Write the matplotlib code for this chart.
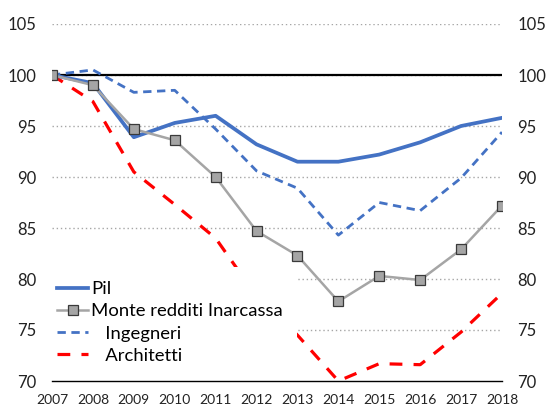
import matplotlib.pyplot as plt
from matplotlib.patches import Rectangle

plt.rcParams['font.family'] = ['Lato', 'DejaVu Sans']

years = [2007, 2008, 2009, 2010, 2011, 2012, 2013, 2014, 2015, 2016, 2017, 2018]
pil = [100.0, 99.2, 93.9, 95.3, 96.0, 93.2, 91.5, 91.5, 92.2, 93.4, 95.0, 95.8]
monte = [100.0, 99.0, 94.7, 93.6, 90.0, 84.7, 82.3, 77.8, 80.3, 79.9, 82.9, 87.2]
ingegneri = [100.0, 100.5, 98.3, 98.5, 94.7, 90.6, 88.9, 84.3, 87.5, 86.7, 89.9, 94.4]
architetti = [100.0, 97.4, 90.5, 87.3, 84.0, 78.3, 74.5, 70.0, 71.7, 71.6, 74.8, 78.6]
yticks = [70, 75, 80, 85, 90, 95, 100, 105]

fig = plt.figure(figsize=(5.46, 4.07), dpi=100)
ax = fig.add_axes([52 / 546, 1 - 381 / 407, 450 / 546, 357 / 407])

for y in yticks[1:]:
    ax.axhline(y, color='#a6a6a6', lw=1, ls=(0, (1, 2)), zorder=1)
ax.axhline(100, color='black', lw=1.6, zorder=2)

ax.plot(years, pil, color='#4472c4', lw=2.7, label='Pil', zorder=4)
ax.plot(years, monte, color='#a5a5a5', lw=1.8, marker='s', markersize=7,
        markerfacecolor='#a5a5a5', markeredgecolor='#3a3a3a', markeredgewidth=0.9,
        label='Monte redditi Inarcassa', zorder=5)
ax.plot(years, ingegneri, color='#4472c4', lw=2.0, ls=(0, (3, 2)),
        label='   Ingegneri', zorder=3)
ax.plot(years, architetti, color='#ff0000', lw=2.3, ls=(0, (4, 3.5)),
        label='   Architetti', zorder=3)

ax.set_xlim(2007, 2018)
ax.set_ylim(70, 105)
ax.set_xticks(years)
ax.set_yticks(yticks)
ax.tick_params(axis='both', length=0, colors='#222222')
ax.tick_params(axis='y', labelsize=12, pad=11, labelright=True)
ax.tick_params(axis='x', labelsize=10, pad=9)
for side in ['left', 'right', 'top']:
    ax.spines[side].set_visible(False)
ax.spines['bottom'].set_color('black')
ax.spines['bottom'].set_linewidth(1)

# white legend area that hides the lines behind it
fig.patches.append(Rectangle((50 / 546, 1 - 370 / 407), 247 / 546, 103 / 407,
                             transform=fig.transFigure, facecolor='white',
                             edgecolor='none', zorder=4))

leg = fig.legend(loc='upper left', bbox_to_anchor=(57 / 546, 1 - 281 / 407),
                 fontsize=13.3, frameon=False, handlelength=1.68,
                 handletextpad=0.15, labelspacing=0.34, borderpad=0,
                 borderaxespad=0)
leg.set_zorder(6)

fig.savefig('out.png', dpi=100)
